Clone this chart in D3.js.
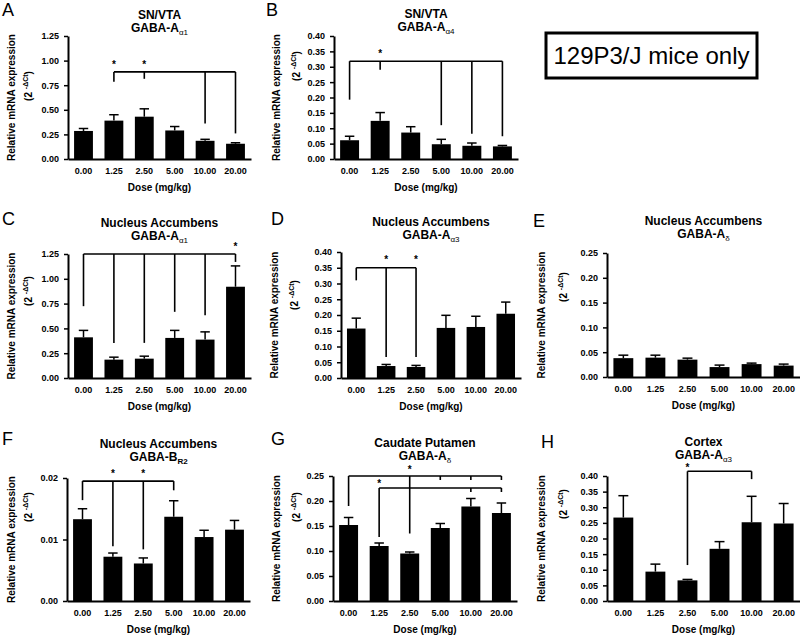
<!DOCTYPE html>
<html><head><meta charset="utf-8">
<script src="https://cdn.jsdelivr.net/npm/d3@7"></script>
<style>body{margin:0;background:#fff} svg{display:block} text{font-family:"Liberation Sans",Arial,sans-serif}</style>
</head><body><svg id="c" width="800" height="636"></svg>
<script>
// ---------- DATA ----------
const doses = ["0.00","1.25","2.50","5.00","10.00","20.00"];

const meanA = [0.285, 0.39, 0.43, 0.29, 0.185, 0.155];
const errA  = [0.025, 0.06, 0.08, 0.04, 0.015, 0.01];
const ticksA = [0, 0.25, 0.5, 0.75, 1.0, 1.25];
const bracketsA = [{level:0.885, legs:[["1.25",0.785],["2.50",0.815],["10.00",0.36],["20.00",0.26]], stars:[["1.25",0.99],["2.50",0.99]]}];

const meanB = [0.061, 0.124, 0.086, 0.048, 0.043, 0.041];
const errB  = [0.013, 0.027, 0.019, 0.016, 0.009, 0.003];
const ticksB = [0, 0.05, 0.10, 0.15, 0.20, 0.25, 0.30, 0.35, 0.40];
const bracketsB = [{level:0.318, legs:[["0.00",0.193],["1.25",0.29],["5.00",0.11],["10.00",0.082],["20.00",0.074]], stars:[["1.25",0.352]]}];

const meanC = [0.41, 0.185, 0.195, 0.404, 0.387, 0.92];
const errC  = [0.07, 0.025, 0.025, 0.076, 0.078, 0.21];
const ticksC = [0, 0.25, 0.5, 0.75, 1.0, 1.25];
const bracketsC = [{level:1.25, legs:[["0.00",0.724],["1.25",0.354],["2.50",0.354],["5.00",0.667],["10.00",0.633],["20.00",1.17]], stars:[["20.00",1.35]]}];

const meanD = [0.157, 0.038, 0.035, 0.159, 0.162, 0.204];
const errD  = [0.033, 0.005, 0.005, 0.040, 0.034, 0.037];
const ticksD = [0, 0.05, 0.10, 0.15, 0.20, 0.25, 0.30, 0.35, 0.40];
const bracketsD = [{level:0.35, legs:[["0.00",0.31],["1.25",0.067],["2.50",0.067]], stars:[["1.25",0.385],["2.50",0.385]]}];

const meanE = [0.038, 0.039, 0.035, 0.020, 0.026, 0.023];
const errE  = [0.006, 0.005, 0.003, 0.004, 0.002, 0.003];
const ticksE = [0, 0.05, 0.10, 0.15, 0.20, 0.25];
const bracketsE = [];

const meanF = [0.0133, 0.0072, 0.0061, 0.0137, 0.0104, 0.0116];
const errF  = [0.0017, 0.0006, 0.0009, 0.0026, 0.0011, 0.0015];
const ticksF = [0, 0.01, 0.02];
const bracketsF = [{level:0.0195, legs:[["0.00",0.0164],["1.25",0.0089],["2.50",0.0084],["5.00",0.018]], stars:[["1.25",0.0212],["2.50",0.0212]]}];

const meanG = [0.152, 0.110, 0.095, 0.146, 0.189, 0.176];
const errG  = [0.015, 0.006, 0.003, 0.009, 0.016, 0.020];
const ticksG = [0, 0.05, 0.10, 0.15, 0.20, 0.25];
const bracketsG = [
  {level:0.25, legs:[["0.00",0.19],["2.50",0.135],["5.00",0.242],["10.00",0.242],["20.00",0.242]], stars:[["2.50",0.268]]},
  {level:0.226, legs:[["1.25",0.128],["10.00",0.218],["20.00",0.218]], stars:[["1.25",0.24]]}
];

const meanH = [0.267, 0.094, 0.066, 0.167, 0.252, 0.248];
const errH  = [0.070, 0.024, 0.003, 0.023, 0.083, 0.064];
const ticksH = [0, 0.05, 0.10, 0.15, 0.20, 0.25, 0.30, 0.35, 0.40];
const bracketsH = [{level:0.415, legs:[["2.50",0.115],["10.00",0.39]], stars:[["2.50",0.436]]}];

const regions = ["SN/VTA","SN/VTA","Nucleus Accumbens","Nucleus Accumbens","Nucleus Accumbens","Nucleus Accumbens","Caudate Putamen","Cortex"];
const genes = ["GABA-A","GABA-A","GABA-A","GABA-A","GABA-A","GABA-B","GABA-A","GABA-A"];
const subs = ["α1","α4","α1","α3","δ","R2","δ","α3"];
const letters = ["A","B","C","D","E","F","G","H"];
const noteText = "129P3/J mice only";

// ---------- LAYOUT ----------
const layout = [
  {x0:68,  x1:251, top:36,  bottom:159, lx:2,   ly:16,  ty:31.5, labX:15,  lab2X:32,  lab2Y:86},
  {x0:334, x1:518, top:36,  bottom:159, lx:266, ly:16,  ty:31,   labX:280, lab2X:300, lab2Y:66},
  {x0:68,  x1:251, top:254, bottom:378, lx:2,   ly:225, ty:240,  labX:15,  lab2X:32,  lab2Y:291},
  {x0:341, x1:521, top:252, bottom:378, lx:271, ly:225, ty:239,  labX:278, lab2X:298, lab2Y:295},
  {x0:607, x1:800, top:253, bottom:377, lx:533, ly:227, ty:238,  labX:545, lab2X:567, lab2Y:287},
  {x0:67,  x1:250, top:478, bottom:601, lx:2,   ly:445, ty:461,  labX:15,  lab2X:32,  lab2Y:507},
  {x0:333, x1:517, top:476, bottom:601, lx:271, ly:445, ty:460,  labX:280, lab2X:300, lab2Y:507},
  {x0:607, x1:800, top:476, bottom:601, lx:541, ly:448, ty:459,  labX:545, lab2X:567, lab2Y:504}
];
const means = [meanA,meanB,meanC,meanD,meanE,meanF,meanG,meanH];
const errs = [errA,errB,errC,errD,errE,errF,errG,errH];
const ticks = [ticksA,ticksB,ticksC,ticksD,ticksE,ticksF,ticksG,ticksH];
const brackets = [bracketsA,bracketsB,bracketsC,bracketsD,bracketsE,bracketsF,bracketsG,bracketsH];

const svg = d3.select("#c");
const FONT = '"Liberation Sans",Arial,sans-serif';
const fmt = d3.format(".2f");

layout.forEach((L, k) => {
  const mean = means[k], err = errs[k];
  const x = d3.scaleBand().domain(doses).range([L.x0, L.x1]).paddingInner(0.38).paddingOuter(0.2);
  const y = d3.scaleLinear().domain([0, d3.max(ticks[k])]).range([L.bottom, L.top]);
  const g = svg.append("g");
  const cx = d => x(d) + x.bandwidth()/2;
  const bw = x.bandwidth();

  // error bars
  g.selectAll("line.err").data(doses).join("line")
    .attr("x1", cx).attr("x2", cx)
    .attr("y1", (d,i) => y(mean[i])).attr("y2", (d,i) => y(mean[i] + err[i]))
    .attr("stroke","#000").attr("stroke-width",1.5);
  g.selectAll("line.cap").data(doses).join("line")
    .attr("x1", d => cx(d) - bw/4).attr("x2", d => cx(d) + bw/4)
    .attr("y1", (d,i) => y(mean[i] + err[i])).attr("y2", (d,i) => y(mean[i] + err[i]))
    .attr("stroke","#000").attr("stroke-width",1.5);
  // bars
  g.selectAll("rect.bar").data(doses).join("rect")
    .attr("x", d => x(d)).attr("width", bw)
    .attr("y", (d,i) => y(mean[i])).attr("height", (d,i) => L.bottom - y(mean[i]))
    .attr("fill","#000");

  // axes
  const ya = g.append("g").attr("transform",`translate(${L.x0},0)`)
    .call(d3.axisLeft(y).tickValues(ticks[k]).tickFormat(fmt).tickSize(4).tickSizeOuter(0).tickPadding(5));
  ya.attr("font-family", FONT).attr("font-size", 9).attr("font-weight","bold");
  ya.select(".domain").attr("stroke-width",2);
  ya.selectAll(".tick line").attr("stroke-width",1.5);

  const xa = g.append("g").attr("transform",`translate(0,${L.bottom})`)
    .call(d3.axisBottom(x).tickSize(0).tickSizeOuter(0).tickPadding(9));
  xa.attr("font-family", FONT).attr("font-size", 9).attr("font-weight","bold");
  xa.select(".domain").attr("stroke-width",2);

  // brackets
  brackets[k].forEach(b => {
    const xs = b.legs.map(l => cx(l[0]));
    g.append("line").attr("x1", d3.min(xs)).attr("x2", d3.max(xs))
      .attr("y1", y(b.level)).attr("y2", y(b.level)).attr("stroke","#000").attr("stroke-width",1.6);
    g.selectAll(null).data(b.legs).join("line")
      .attr("x1", l => cx(l[0])).attr("x2", l => cx(l[0]))
      .attr("y1", y(b.level)).attr("y2", l => y(l[1]))
      .attr("stroke","#000").attr("stroke-width",1.6);
    g.selectAll(null).data(b.stars).join("text")
      .attr("x", s => cx(s[0])).attr("y", s => y(s[1]) + 6)
      .attr("text-anchor","middle").attr("font-size",10).attr("font-weight","bold").text("*");
  });

  // titles
  const mid = (L.x0 + L.x1) / 2;
  g.append("text").attr("x", mid).attr("y", L.ty - 13).attr("text-anchor","middle")
    .attr("font-size",12).attr("font-weight","bold").text(regions[k]);
  const t2 = g.append("text").attr("x", mid).attr("y", L.ty).attr("text-anchor","middle")
    .attr("font-size",12).attr("font-weight","bold");
  t2.append("tspan").text(genes[k]);
  t2.append("tspan").attr("dy",3).attr("font-size",8)
    .attr("font-weight", genes[k] === "GABA-B" ? "bold" : "normal").text(subs[k]);

  // panel letter
  g.append("text").attr("x", L.lx).attr("y", L.ly).attr("font-size",18).text(letters[k]);

  // y label
  const cy = (L.top + L.bottom) / 2;
  g.append("text").attr("transform",`translate(${L.labX},${cy}) rotate(-90)`)
    .attr("text-anchor","middle").attr("font-size",10).attr("font-weight","bold")
    .text("Relative mRNA expression");
  const l2 = g.append("text").attr("transform",`translate(${L.lab2X},${L.lab2Y}) rotate(-90)`)
    .attr("text-anchor","middle").attr("font-size",10).attr("font-weight","bold");
  l2.append("tspan").text("(2 ");
  l2.append("tspan").attr("dy",-4).attr("font-size",7).text("-ΔCt");
  l2.append("tspan").attr("dy",4).text(")");

  // x label
  g.append("text").attr("x", mid).attr("y", L.bottom + 32).attr("text-anchor","middle")
    .attr("font-size",10).attr("font-weight","bold").text("Dose (mg/kg)");
});

// note box
svg.append("rect").attr("x",546).attr("y",33).attr("width",211).attr("height",45)
  .attr("fill","#fff").attr("stroke","#000").attr("stroke-width",3);
svg.append("text").attr("x",651.5).attr("y",64).attr("text-anchor","middle")
  .attr("font-size",24).text(noteText);
</script>
</body></html>
